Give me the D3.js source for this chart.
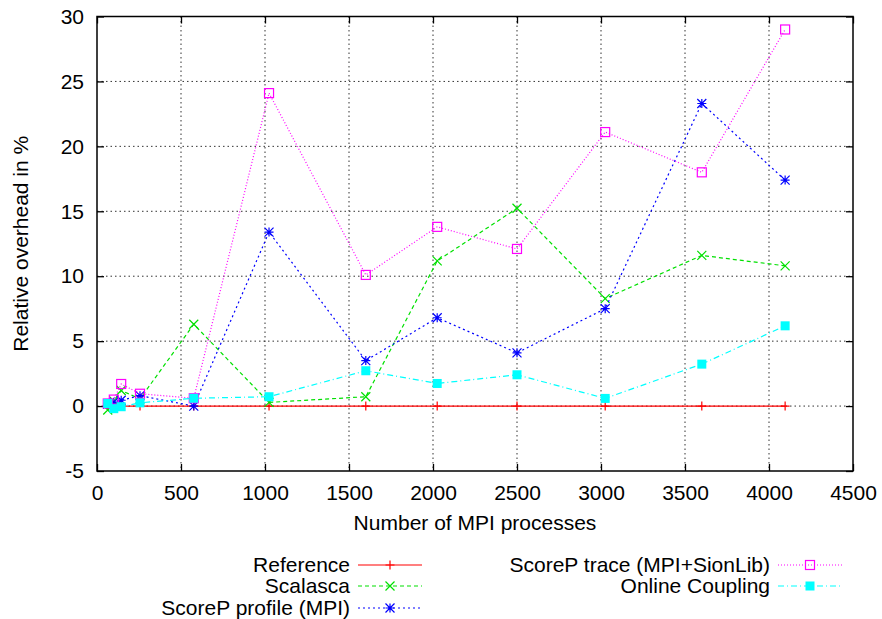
<!DOCTYPE html>
<html><head><meta charset="utf-8">
<script src="https://cdn.jsdelivr.net/npm/d3@7/dist/d3.min.js"></script>
<style>body{margin:0;background:#fff}svg{display:block}text{font-family:"Liberation Sans",Arial,sans-serif;fill:#000}</style>
</head><body><svg id="c" width="882" height="619"></svg>
<script>
const procs = [64, 100, 144, 256, 576, 1024, 1600, 2025, 2500, 3025, 3600, 4096];
const reference = [0, 0, 0, 0, 0, 0, 0, 0, 0, 0, 0, 0];
const scalasca = [-0.3, 0.4, 1.2, 0.55, 6.3, 0.28, 0.72, 11.18, 15.23, 8.28, 11.6, 10.8];
const profile = [0.15, 0.3, 0.45, 0.8, 0.0, 13.4, 3.5, 6.8, 4.1, 7.5, 23.3, 17.4];
const trace = [0.2, 0.5, 1.7, 0.95, 0.6, 24.1, 10.1, 13.8, 12.1, 21.1, 18.0, 29.0];
const coupling = [0.2, -0.2, -0.05, 0.25, 0.6, 0.72, 2.72, 1.74, 2.41, 0.59, 3.23, 6.18];
const xTicks = [0, 500, 1000, 1500, 2000, 2500, 3000, 3500, 4000, 4500];
const yTicks = [-5, 0, 5, 10, 15, 20, 25, 30];

const series = [
  {name:"Reference", vals:reference, color:"#ff0000", dash:null, marker:"plus"},
  {name:"Scalasca", vals:scalasca, color:"#00e000", dash:"4,3", marker:"x"},
  {name:"ScoreP profile (MPI)", vals:profile, color:"#0000ff", dash:"2,3", marker:"star"},
  {name:"ScoreP trace (MPI+SionLib)", vals:trace, color:"#ff00ff", dash:"1,2", marker:"box"},
  {name:"Online Coupling", vals:coupling, color:"#00ffff", dash:"6,3,1,3", marker:"fbox"}
];

const L=97, R=853, T=16.5, B=471;
const svg = d3.select("#c");
const x = d3.scaleLinear().domain([0,4500]).range([L,R]);
const y = d3.scaleLinear().domain([-5,30]).range([B,T]);

// grid
const g = svg.append("g");
g.selectAll(".gx").data(xTicks.slice(1,-1)).join("line")
  .attr("x1",d=>x(d)).attr("x2",d=>x(d)).attr("y1",T).attr("y2",B)
  .attr("stroke","#000").attr("stroke-width",1).attr("stroke-dasharray","1.5,3").attr("opacity",0.8);
g.selectAll(".gy").data(yTicks.slice(1,-1)).join("line")
  .attr("y1",d=>y(d)).attr("y2",d=>y(d)).attr("x1",L).attr("x2",R)
  .attr("stroke","#000").attr("stroke-width",1).attr("stroke-dasharray","1.5,3").attr("opacity",0.8);

// axes with inward ticks
const fs = 21;
const fmt = d => String(d);
const ax = svg.append("g").attr("transform",`translate(0,${B})`).call(d3.axisBottom(x).tickValues(xTicks).tickSize(-7).tickPadding(14).tickFormat(fmt));
const axT = svg.append("g").attr("transform",`translate(0,${T})`).call(d3.axisTop(x).tickValues(xTicks).tickSize(-7).tickFormat(""));
const ay = svg.append("g").attr("transform",`translate(${L},0)`).call(d3.axisLeft(y).tickValues(yTicks).tickSize(-7).tickPadding(13).tickFormat(fmt));
const ayR = svg.append("g").attr("transform",`translate(${R},0)`).call(d3.axisRight(y).tickValues(yTicks).tickSize(-7).tickFormat(""));
[ax,axT,ay,ayR].forEach(a=>{a.select(".domain").remove();a.selectAll("line").attr("stroke","#000").attr("stroke-width",1.3);a.selectAll("text").attr("font-size",fs).attr("font-family","Liberation Sans, Arial, sans-serif");});

const line = d3.line().x((d,i)=>x(procs[i])).y(d=>y(d));

function marker(sel, type, color, cx, cy){
  const s=4.5;
  if(type==="plus"){
    sel.append("path").attr("d",`M${cx-s},${cy}H${cx+s}M${cx},${cy-s}V${cy+s}`).attr("stroke",color).attr("stroke-width",1.2).attr("fill","none");
  } else if(type==="x"){
    sel.append("path").attr("d",`M${cx-s},${cy-s}L${cx+s},${cy+s}M${cx-s},${cy+s}L${cx+s},${cy-s}`).attr("stroke",color).attr("stroke-width",1.2).attr("fill","none");
  } else if(type==="star"){
    sel.append("path").attr("d",`M${cx-s},${cy}H${cx+s}M${cx},${cy-s}V${cy+s}M${cx-s},${cy-s}L${cx+s},${cy+s}M${cx-s},${cy+s}L${cx+s},${cy-s}`).attr("stroke",color).attr("stroke-width",1.2).attr("fill","none");
  } else if(type==="box"){
    sel.append("rect").attr("x",cx-s).attr("y",cy-s).attr("width",2*s).attr("height",2*s).attr("stroke",color).attr("stroke-width",1.2).attr("fill","none");
  } else if(type==="fbox"){
    sel.append("rect").attr("x",cx-s).attr("y",cy-s).attr("width",2*s).attr("height",2*s).attr("fill",color);
  }
}

const data = svg.append("g");
series.forEach(s=>{
  const sg = data.append("g");
  sg.append("path").attr("d",line(s.vals)).attr("fill","none").attr("stroke",s.color).attr("stroke-width",1.2)
    .attr("stroke-dasharray",s.dash);
  s.vals.forEach((v,i)=>marker(sg,s.marker,s.color,x(procs[i]),y(v)));
});

// border
svg.append("rect").attr("x",L).attr("y",T).attr("width",R-L).attr("height",B-T).attr("fill","none").attr("stroke","#000").attr("stroke-width",1.5);

// axis titles
svg.append("text").attr("x",(L+R)/2).attr("y",530).attr("text-anchor","middle").attr("font-size",fs).text("Number of MPI processes");
svg.append("text").attr("transform",`translate(28,${(T+B)/2}) rotate(-90)`).attr("text-anchor","middle").attr("font-size",fs).text("Relative overhead in %");

// legend
const legPos = [
  {tx:350, sx:358, y:565},
  {tx:350, sx:358, y:586},
  {tx:350, sx:358, y:608},
  {tx:770, sx:778, y:565},
  {tx:770, sx:778, y:586}
];
const leg = svg.append("g");
series.forEach((s,i)=>{
  const p = legPos[i];
  leg.append("text").attr("x",p.tx).attr("y",p.y+7).attr("text-anchor","end").attr("font-size",fs).text(s.name);
  leg.append("line").attr("x1",p.sx).attr("x2",p.sx+64).attr("y1",p.y).attr("y2",p.y).attr("stroke",s.color).attr("stroke-width",1.2).attr("stroke-dasharray",s.dash);
  marker(leg,s.marker,s.color,p.sx+32,p.y);
});
</script></body></html>
